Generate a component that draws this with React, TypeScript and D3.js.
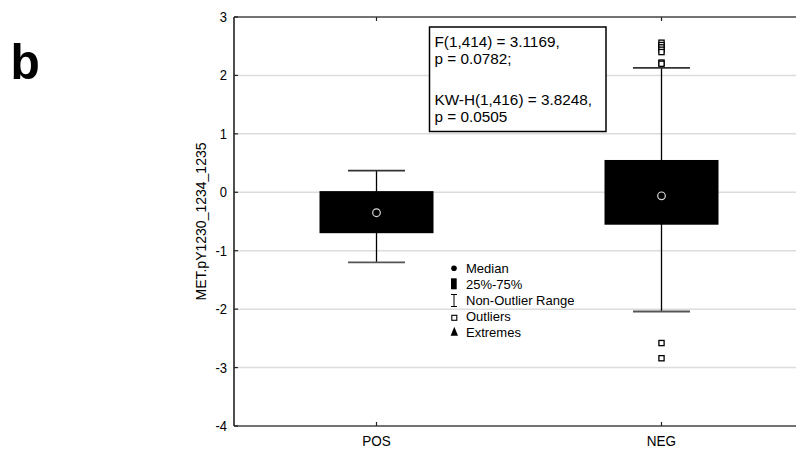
import React from "react";
import * as d3 from "d3";

const categories = ["POS", "NEG"];
const q1 = [-0.7, -0.555];
const q3 = [0.02, 0.553];
const medians = [-0.35, -0.06];
const whiskerLow = [-1.2, -2.04];
const whiskerHigh = [0.37, 2.13];
const outlierCat = ["NEG", "NEG", "NEG", "NEG", "NEG", "NEG", "NEG", "NEG", "NEG"];
const outlierVal = [2.56, 2.52, 2.48, 2.44, 2.4, 2.22, 2.2, -2.58, -2.84];
const yTicks = [3, 2, 1, 0, -1, -2, -3, -4];
const statsLines = ["F(1,414) = 3.1169,", "p = 0.0782;", "KW-H(1,416) = 3.8248,", "p = 0.0505"];
const legendItems = ["Median", "25%-75%", "Non-Outlier Range", "Outliers", "Extremes"];
const yTitle = "MET.pY1230_1234_1235";

const FONT = "'Liberation Sans', Arial, sans-serif";

const W = 796, H = 452;
const left = 234, right = 804, top = 17, bottom = 426;

function T({ x, y, size, sy = 1, anchor = "start", weight = "normal", rotate = 0, children }: any) {
  return (
    <g transform={`translate(${x},${y}) rotate(${rotate}) scale(1,${sy})`}>
      <text x={0} y={0} fontSize={size} fontFamily={FONT} textAnchor={anchor} fontWeight={weight} fill="#000">
        {children}
      </text>
    </g>
  );
}

export default function App() {
  const y = d3.scaleLinear().domain([-4, 3]).range([bottom, top]);
  const x = d3.scalePoint().domain(categories).range([left, right]).padding(0.5);
  const step = x.step();
  const boxW = step * 0.4;
  const capW = step * 0.2;

  return (
    <svg width={W} height={H} style={{ position: "absolute", left: 0, top: 0, background: "#fff" }}>
      <rect x={0} y={0} width={W} height={H} fill="#fff" />
      {/* gridlines */}
      {yTicks.filter((t) => t !== 3 && t !== -4).map((t) => (
        <line key={t} x1={left} x2={right} y1={y(t)} y2={y(t)} stroke="#dcdcdc" strokeWidth={1.5} />
      ))}
      {/* frame */}
      <line x1={left} x2={right} y1={top} y2={top} stroke="#444" strokeWidth={1.6} />
      <line x1={left} x2={right} y1={bottom} y2={bottom} stroke="#444" strokeWidth={1.6} />
      <line x1={left} x2={left} y1={top} y2={bottom} stroke="#222" strokeWidth={1.6} />
      {/* y ticks */}
      {yTicks.map((t) => (
        <g key={"yt" + t}>
          <line x1={left} x2={left + 4} y1={y(t)} y2={y(t)} stroke="#222" strokeWidth={1.2} />
          <T x={227} y={y(t) + 5} size={13} sy={1.1} anchor="end">{t}</T>
        </g>
      ))}
      {/* x ticks */}
      {categories.map((c) => (
        <g key={"xt" + c}>
          <line x1={x(c)} x2={x(c)} y1={top} y2={top + 4} stroke="#222" strokeWidth={1.2} />
          <line x1={x(c)} x2={x(c)} y1={bottom} y2={bottom - 4} stroke="#222" strokeWidth={1.2} />
          <T x={x(c)} y={446} size={13.5} sy={1.1} anchor="middle">{c}</T>
        </g>
      ))}
      {/* axis title */}
      <T x={206} y={221.5} size={14} rotate={-90} anchor="middle">{yTitle}</T>
      {/* boxes */}
      {categories.map((c, i) => {
        const cx = x(c) as number;
        return (
          <g key={"box" + c}>
            <line x1={cx} x2={cx} y1={y(whiskerHigh[i])} y2={y(whiskerLow[i])} stroke="#000" strokeWidth={1.3} />
            <line x1={cx - capW / 2} x2={cx + capW / 2} y1={y(whiskerHigh[i])} y2={y(whiskerHigh[i])} stroke="#333" strokeWidth={1.8} />
            <line x1={cx - capW / 2} x2={cx + capW / 2} y1={y(whiskerLow[i])} y2={y(whiskerLow[i])} stroke="#555" strokeWidth={1.8} />
            <rect x={cx - boxW / 2} y={y(q3[i])} width={boxW} height={y(q1[i]) - y(q3[i])} fill="#000" />
            <circle cx={cx} cy={y(medians[i])} r={3.8} fill="#000" stroke="#d8d8d8" strokeWidth={1.2} />
          </g>
        );
      })}
      {/* outliers */}
      {outlierVal.map((v, i) => (
        <rect key={"o" + i} x={(x(outlierCat[i]) as number) - 2.6} y={y(v) - 2.6} width={5.2} height={5.2} fill="#fff" stroke="#000" strokeWidth={1.3} />
      ))}
      {/* stats box */}
      <rect x={429.5} y={27} width={176.5} height={104.5} fill="#fff" stroke="#000" strokeWidth={1.5} />
      <T x={434.5} y={46.5} size={15.3}>{statsLines[0]}</T>
      <T x={434.5} y={63.5} size={15.3}>{statsLines[1]}</T>
      <T x={434.5} y={105} size={15.3}>{statsLines[2]}</T>
      <T x={434.5} y={121.5} size={15.3}>{statsLines[3]}</T>
      {/* legend */}
      <g>
        <circle cx={454} cy={268.3} r={2.8} fill="#000" />
        <rect x={451} y={278.3} width={5.7} height={11} fill="#000" />
        <line x1={454} x2={454} y1={294.5} y2={306.5} stroke="#000" strokeWidth={1} />
        <line x1={451} x2={457} y1={294.5} y2={294.5} stroke="#000" strokeWidth={1} />
        <line x1={451} x2={457} y1={306.5} y2={306.5} stroke="#000" strokeWidth={1} />
        <rect x={451.8} y={315.3} width={5} height={5} fill="#fff" stroke="#000" strokeWidth={1.1} />
        <path d="M454.3,326.7 L458,335.7 L450.6,335.7 Z" fill="#000" />
        {legendItems.map((s, i) => (
          <T key={s} x={466} y={272.7 + i * 16} size={13}>{s}</T>
        ))}
      </g>
      {/* panel letter */}
      <T x={10.5} y={79.3} size={48} sy={1.05} weight="bold">b</T>
    </svg>
  );
}
